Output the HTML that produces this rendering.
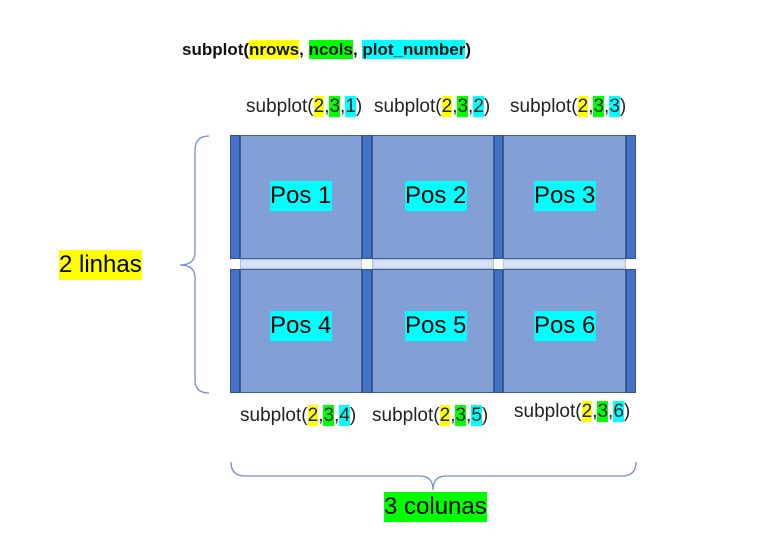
<!DOCTYPE html>
<html><head><meta charset="utf-8"><style>
body{margin:0;width:759px;height:558px;background:#fff;position:relative;overflow:hidden;font-family:"Liberation Sans",sans-serif;color:#111}
div,span{position:absolute}
.dk{background:#4472c4;border:1px solid #2f528f;box-sizing:border-box}
.lt{background:#82a0d6;border:1px solid #3e5f9a;box-sizing:border-box}
.st{background:#d5dff0;border:1px solid #b0c0dc;box-sizing:border-box}
.pos{background:#00ffff;font-size:24px;line-height:30px;white-space:nowrap;color:#000}
.lab{font-size:19px;white-space:nowrap;color:#222}
.y{background:#ffff00}.g{background:#00ff00}.c{background:#00ffff}
.lab span,.top span{position:static}
</style></head><body>
<div class="top" style="left:182px;top:40px;font-size:17px;font-weight:bold;white-space:nowrap">subplot(<span class="y">nrows</span>, <span class="g">ncols</span>, <span class="c">plot_number</span>)</div>

<div class="lab" style="left:246px;top:96px">subplot(<span class="y">2</span>,<span class="g">3</span>,<span class="c">1</span>)</div>
<div class="lab" style="left:374px;top:96px">subplot(<span class="y">2</span>,<span class="g">3</span>,<span class="c">2</span>)</div>
<div class="lab" style="left:510px;top:96px">subplot(<span class="y">2</span>,<span class="g">3</span>,<span class="c">3</span>)</div>

<div class="dk" style="left:230px;top:135px;width:10px;height:124px"></div>
<div class="dk" style="left:362px;top:135px;width:10px;height:124px"></div>
<div class="dk" style="left:494px;top:135px;width:9px;height:124px"></div>
<div class="dk" style="left:626px;top:135px;width:10px;height:124px"></div>
<div class="dk" style="left:230px;top:269px;width:10px;height:124px"></div>
<div class="dk" style="left:362px;top:269px;width:10px;height:124px"></div>
<div class="dk" style="left:494px;top:269px;width:9px;height:124px"></div>
<div class="dk" style="left:626px;top:269px;width:10px;height:124px"></div>

<div class="lt" style="left:240px;top:135px;width:122px;height:124px"></div>
<div class="lt" style="left:372px;top:135px;width:122px;height:124px"></div>
<div class="lt" style="left:503px;top:135px;width:123px;height:124px"></div>
<div class="st" style="left:240px;top:259px;width:122px;height:10px"></div>
<div class="st" style="left:372px;top:259px;width:122px;height:10px"></div>
<div class="st" style="left:503px;top:259px;width:123px;height:10px"></div>
<div class="lt" style="left:240px;top:269px;width:122px;height:124px"></div>
<div class="lt" style="left:372px;top:269px;width:122px;height:124px"></div>
<div class="lt" style="left:503px;top:269px;width:123px;height:124px"></div>

<div class="pos" style="left:270px;top:181px;width:62px">Pos 1</div>
<div class="pos" style="left:405px;top:181px;width:62px">Pos 2</div>
<div class="pos" style="left:534px;top:181px;width:62px">Pos 3</div>
<div class="pos" style="left:270px;top:311px;width:62px">Pos 4</div>
<div class="pos" style="left:405px;top:311px;width:62px">Pos 5</div>
<div class="pos" style="left:534px;top:311px;width:62px">Pos 6</div>

<div class="lab" style="left:240px;top:405px">subplot(<span class="y">2</span>,<span class="g">3</span>,<span class="c">4</span>)</div>
<div class="lab" style="left:372px;top:405px">subplot(<span class="y">2</span>,<span class="g">3</span>,<span class="c">5</span>)</div>
<div class="lab" style="left:514px;top:401px">subplot(<span class="y">2</span>,<span class="g">3</span>,<span class="c">6</span>)</div>

<svg style="position:absolute;left:0;top:0" width="759" height="558">
<path d="M209 136 Q195 136 195 150 L195 252 Q195 265 180 265 Q195 265 195 278 L195 380 Q195 393 209 393" fill="none" stroke="#6f8fcf" stroke-width="1.3"/>
<path d="M231 462 Q231 476 245 476 L420 476 Q433 476 433 490 Q433 476 446 476 L622 476 Q636 476 636 462" fill="none" stroke="#6f8fcf" stroke-width="1.3"/>
</svg>
<div style="left:59px;top:250px;background:#ffff00;font-size:24px;line-height:30px;white-space:nowrap;color:#000">2 linhas</div>
<div style="left:384px;top:492px;background:#00ff00;font-size:24px;line-height:30px;white-space:nowrap;color:#000">3 colunas</div>
</body></html>
